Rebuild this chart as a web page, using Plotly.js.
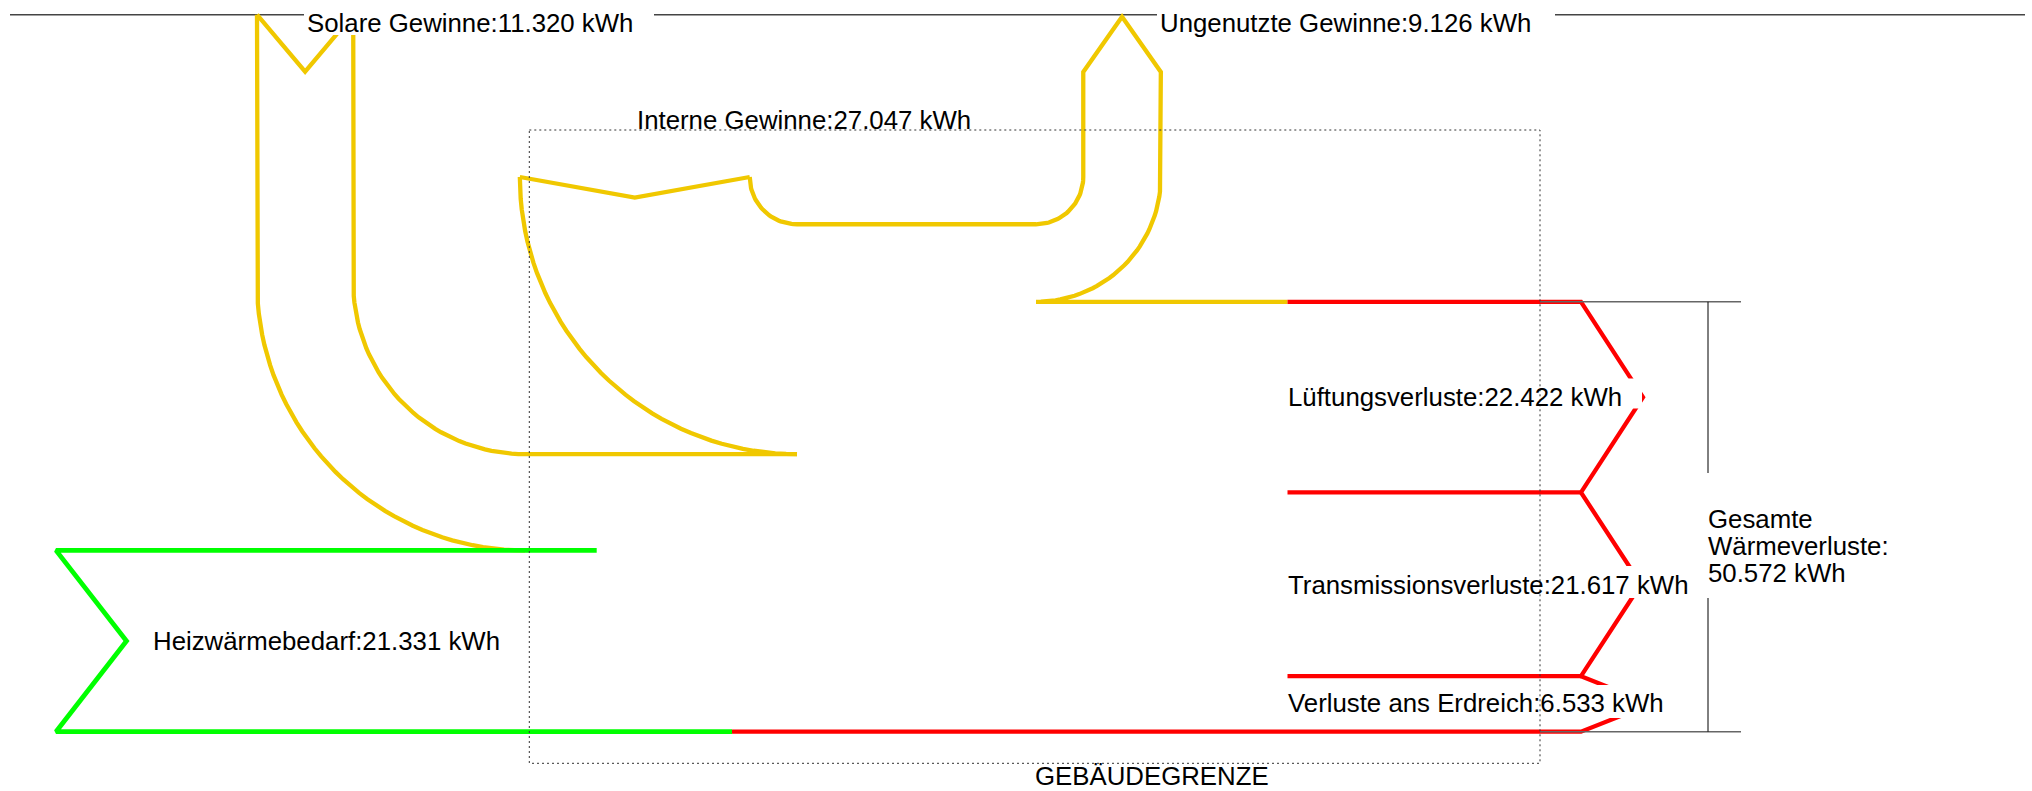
<!DOCTYPE html>
<html><head><meta charset="utf-8">
<script src="https://cdn.plot.ly/plotly-3.0.1.min.js"></script>
<style>html,body{margin:0;padding:0;background:#fff;}#chart{width:2032px;height:791px;}</style>
</head><body><div id="chart"></div>
<script>
// ---------------- data ----------------
const gainNames = ["Solare Gewinne", "Interne Gewinne", "Ungenutzte Gewinne"];
const gainValues = [11320, 27047, 9126];          // kWh
const heatNames = ["Heizwärmebedarf"];
const heatValues = [21331];                        // kWh
const lossNames = ["Lüftungsverluste", "Transmissionsverluste", "Verluste ans Erdreich"];
const lossValues = [22422, 21617, 6533];           // kWh
const totalNames = ["Gesamte", "Wärmeverluste:"];
const boundaryNames = ["GEBÄUDEGRENZE"];
const unit = "kWh";

// ---------------- layout constants (positions / styles) ----------------
const W = 2032, H = 791;
const K = 0.0085;            // px per kWh (band thickness scale)
const Y_BOT = 731.7;         // bottom edge of the flows
const Y_TOPLINE = 14.7;      // upper reference line
const SOLAR_X0 = 257, SOLAR_CX = 525, SOLAR_NOTCH = 57;
const INT_CX = 797, INT_CY = 177, INT_NOTCH = 20.5;
const UNU_CX = 1036, UNU_SHOULDER = 72, UNU_TIP = 16.7;
const RED_X0 = 1287.5, BRANCH_X = 1581, TIP_LEN = [62, 60, 70];
const GREEN_X0 = 56, GREEN_NOTCH = 70.5, GREEN_TOP_END = 596.7, GREEN_RED_X = 732;
const BOX = {x0: 529.3, x1: 1540, y0: 130, y1: 763.3};
const BRACKET = {x0: 1540, x1: 1741, xv: 1708};
const YELLOW = "#F0C800", GREEN = "#00FF00", RED = "#FF0000";
const LW = {yellow: 4.3, red: 4.3, green: 4.8};
const FONT = {family: "Liberation Sans, Arial, sans-serif", size: 25.8, color: "#000"};

function fmt(v){ return String(v).replace(/\B(?=(\d{3})+(?!\d))/g, "."); }
function arc(cx, cy, r, a0, a1, n){
  const pts = []; n = n || 40;
  for (let i = 0; i <= n; i++){
    const a = (a0 + (a1 - a0) * i / n) * Math.PI / 180;
    pts.push([cx + r * Math.cos(a), cy + r * Math.sin(a)]);
  }
  return pts;
}

// ---------------- derived geometry from the values ----------------
const [S, I, U] = gainValues;
const Hh = heatValues[0];
const total = lossValues.reduce((a, b) => a + b, 0);
const yLossTop = Y_BOT - total * K;
const yHeatTop = Y_BOT - Hh * K;
const ySolarTop = yHeatTop - S * K;
const yUsedTop = ySolarTop - (I - U) * K;
const yUnusedTop = yUsedTop - U * K;

// solar band
const RS = SOLAR_CX - SOLAR_X0;
const cyS = yHeatTop - RS;
const rS = RS - S * K;
const xSi = SOLAR_X0 + S * K;
// internal band
const RI = ySolarTop - INT_CY;
const rI = yUnusedTop - INT_CY;
const xIL = INT_CX - RI, xIR = INT_CX - rI;
// unused band
const rU = yUnusedTop - INT_CY;
const RU = yUsedTop - INT_CY;

const paths = []; // {pts, color, width}
function add(pts, color, width){ paths.push({pts, color, width}); }

// upper reference line
add([[10, Y_TOPLINE], [2025, Y_TOPLINE]], "#444", 1.5);

// solar gains
add([[SOLAR_X0, Y_TOPLINE], [SOLAR_X0, cyS], ...arc(SOLAR_CX, cyS, RS, 180, 90)], YELLOW, LW.yellow);
add([[SOLAR_X0, Y_TOPLINE], [(SOLAR_X0 + xSi) / 2, Y_TOPLINE + SOLAR_NOTCH], [xSi, Y_TOPLINE]], YELLOW, LW.yellow);
add([[xSi, Y_TOPLINE], [xSi, cyS], ...arc(SOLAR_CX, cyS, rS, 180, 90), [INT_CX, ySolarTop]], YELLOW, LW.yellow);
// internal gains
add(arc(INT_CX, INT_CY, RI, 180, 90), YELLOW, LW.yellow);
add([[xIL, INT_CY], [(xIL + xIR) / 2, INT_CY + INT_NOTCH], [xIR, INT_CY]], YELLOW, LW.yellow);
// internal inner edge -> unused gains arrow -> used gains top edge
const xUi = UNU_CX + rU, xUo = UNU_CX + RU;
add([
  ...arc(INT_CX, INT_CY, rI, 180, 90),
  ...arc(UNU_CX, INT_CY, rU, 90, 0),
  [xUi, UNU_SHOULDER], [(xUi + xUo) / 2, UNU_TIP], [xUo, UNU_SHOULDER],
  ...arc(UNU_CX, INT_CY, RU, 0, 90),
  [RED_X0, yUsedTop]
], YELLOW, LW.yellow);

// losses (red) with arrow heads
const yL = [yLossTop];
lossValues.forEach(v => yL.push(yL[yL.length - 1] + v * K));
const red = [[RED_X0, yL[0]], [BRANCH_X, yL[0]]];
for (let i = 0; i < lossValues.length; i++){
  red.push([BRANCH_X + TIP_LEN[i], (yL[i] + yL[i + 1]) / 2]);
  red.push([BRANCH_X, yL[i + 1]]);
}
red.push([GREEN_RED_X, Y_BOT]);
add(red, RED, LW.red);
for (let i = 1; i < lossValues.length; i++) add([[RED_X0, yL[i]], [BRANCH_X, yL[i]]], RED, LW.red);

// heating demand (green)
add([[GREEN_TOP_END, yHeatTop], [GREEN_X0, yHeatTop], [GREEN_X0 + GREEN_NOTCH, (yHeatTop + Y_BOT) / 2],
     [GREEN_X0, Y_BOT], [GREEN_RED_X, Y_BOT]], GREEN, LW.green);

// bracket for total losses
add([[BRACKET.x0, yLossTop], [BRACKET.x1, yLossTop]], "#666", 1.5);
add([[BRACKET.x0, Y_BOT], [BRACKET.x1, Y_BOT]], "#666", 1.5);
add([[BRACKET.xv, yLossTop], [BRACKET.xv, Y_BOT]], "#000", 1);

const traces = paths.map(p => ({
  type: "scatter", mode: "lines",
  x: p.pts.map(q => q[0]), y: p.pts.map(q => q[1]),
  line: {color: p.color, width: p.width}, hoverinfo: "skip", showlegend: false
}));

// ---------------- labels ----------------
const labelPos = [ // [x-left, baseline]
  [306.5, 31.5], [636.6, 129.3], [1160, 31.5]
];
const OFF = 9; // baseline -> middle
const ann = [];
function label(text, x, base){
  ann.push({text, x, y: base - OFF, xref: "x", yref: "y", xanchor: "left", yanchor: "middle",
            showarrow: false, font: FONT, borderpad: 0, borderwidth: 0});
}
gainNames.forEach((n, i) => label(n + ":" + fmt(gainValues[i]) + " " + unit, labelPos[i][0], labelPos[i][1]));
label(heatNames[0] + ":" + fmt(heatValues[0]) + " " + unit, 153, 650);
const lossBase = [406, 594, 712.3];
lossNames.forEach((n, i) => label(n + ":" + fmt(lossValues[i]) + " " + unit, RED_X0, lossBase[i]));
label(totalNames[0], BRACKET.xv, 528.3);
label(totalNames[1], BRACKET.xv, 555);
label(fmt(total) + " " + unit, BRACKET.xv, 581.7);
label(boundaryNames[0], 1035, 785);

// white knock-out boxes behind some labels, then the dotted building boundary
const knock = [[304, 0, 654, 35], [1157, 0, 1555, 35], [1284, 378.5, 1642, 408.5],
               [1284, 566, 1700, 598], [1284, 685, 1675, 718], [1700, 473, 1900, 598]];
const shapes = knock.map(b => ({type: "rect", xref: "x", yref: "y", x0: b[0], y0: b[1], x1: b[2], y1: b[3],
  fillcolor: "#fff", line: {width: 0}, layer: "above"}));
shapes.push({type: "rect", xref: "x", yref: "y", x0: BOX.x0, x1: BOX.x1, y0: BOX.y0, y1: BOX.y1,
  line: {color: "#333", width: 1, dash: "2px,3px"}, fillcolor: "rgba(0,0,0,0)", layer: "above"});

const layout = {
  width: W, height: H, margin: {l: 0, r: 0, t: 0, b: 0},
  paper_bgcolor: "#fff", plot_bgcolor: "#fff", showlegend: false,
  xaxis: {range: [0, W], visible: false, fixedrange: true},
  yaxis: {range: [H, 0], visible: false, fixedrange: true},
  shapes, annotations: ann, font: FONT
};
Plotly.newPlot("chart", traces, layout, {staticPlot: true, displayModeBar: false});
</script></body></html>
